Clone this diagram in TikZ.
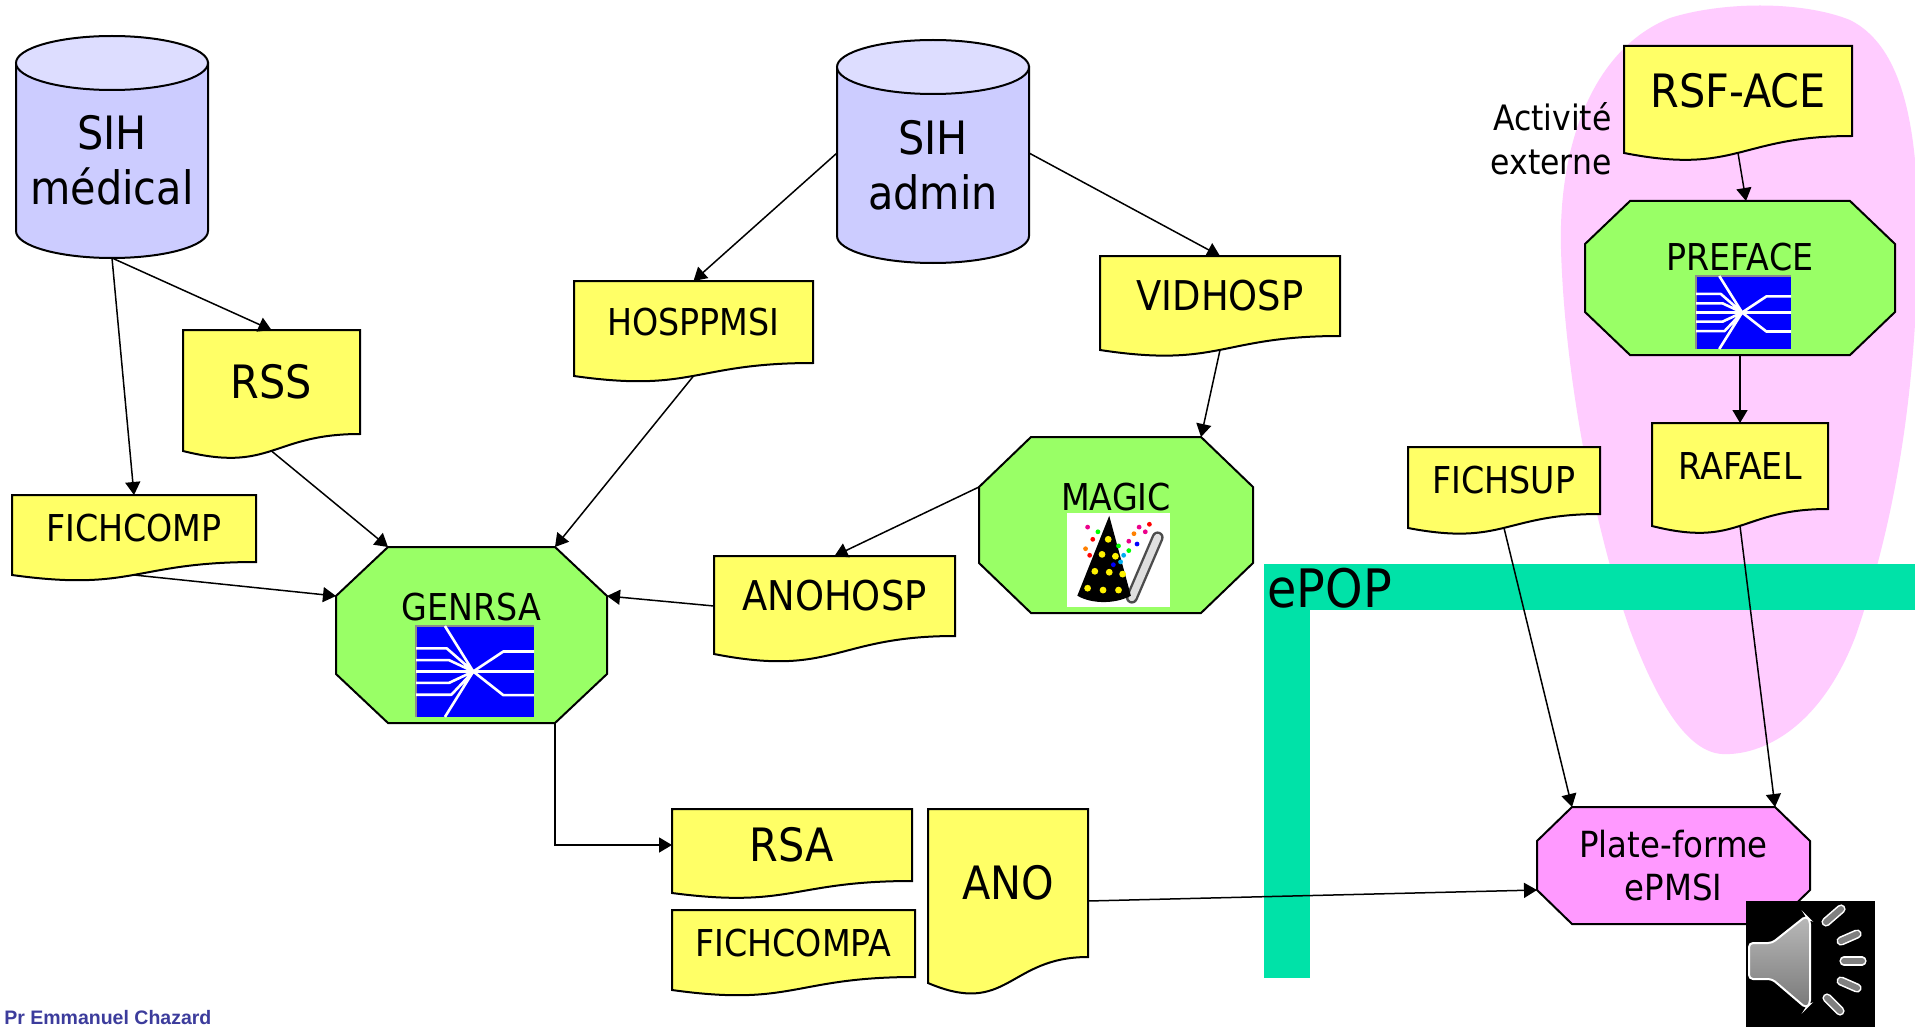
\documentclass[tikz,border=0pt]{standalone}
\usepackage{fontspec}
\setmainfont{DejaVu Sans}[FakeStretch=0.9]
\newfontfamily\creditfont{Liberation Sans}
\usetikzlibrary{calc,arrows.meta}

\pgfdeclarelayer{backdrop}
\pgfdeclarelayer{shapes}
\pgfsetlayers{backdrop,shapes,main}

\definecolor{docyellow}{HTML}{FFFF66}
\definecolor{procgreen}{HTML}{99FF66}
\definecolor{dbbody}{HTML}{CCCCFF}
\definecolor{dbtop}{HTML}{DDDDFF}
\definecolor{platpink}{HTML}{FF99FF}
\definecolor{zonepink}{HTML}{FFCCFF}
\definecolor{epopgreen}{HTML}{00E2A8}
\definecolor{iconblue}{HTML}{0000FF}
\definecolor{creditblue}{HTML}{3C3C9C}

\tikzset{
  box/.style={inner sep=0pt, outer sep=0pt, align=center, text=black},
  docbox/.style={box, anchor=north west},
  outline/.style={draw=black, line width=1pt, line join=miter},
  flow/.style={-{Triangle[length=6.5pt,width=7.5pt]}, line width=0.75pt},
  bigtext/.style={font=\fontsize{23}{27.5}\selectfont},
  midtext/.style={font=\fontsize{18.5}{22}\selectfont},
  largetext/.style={font=\fontsize{20.5}{24}\selectfont},
}

% document symbol (wavy bottom) around a node; #2 = drop of the wave's left end
\newcommand\docshape[2]{%
  \begin{pgfonlayer}{shapes}
    \draw[outline, fill=docyellow] (#1.north west) -- (#1.north east) -- (#1.south east)
      .. controls (#1.south) and ($(#1.south)+(0,{2.31*#2})$) .. ($(#1.south west)+(0,#2)$) -- cycle;
  \end{pgfonlayer}}

% octagonal process symbol; #2,#3 = chamfer sizes, #4 = fill
\newcommand\octshape[4]{%
  \begin{pgfonlayer}{shapes}
    \draw[outline, fill=#4] ($(#1.north west)+(#2,0)$) -- ($(#1.north east)+(-#2,0)$)
      -- ($(#1.north east)+(0,#3)$) -- ($(#1.south east)+(0,-#3)$)
      -- ($(#1.south east)+(-#2,0)$) -- ($(#1.south west)+(#2,0)$)
      -- ($(#1.south west)+(0,-#3)$) -- ($(#1.north west)+(0,#3)$) -- cycle;
  \end{pgfonlayer}}

% database cylinder; #2,#3 = radii of the ellipses, #4 = y radius in picture units
\newcommand\cylshape[4]{%
  \begin{pgfonlayer}{shapes}
    \draw[outline, fill=dbbody] (#1.north west) -- ($(#1.south west)+(0,-#4)$)
      arc[start angle=180, end angle=360, x radius=#2, y radius=#3] -- (#1.north east) -- cycle;
    \draw[outline, fill=dbtop] (#1.north) ellipse[x radius=#2, y radius=#3];
  \end{pgfonlayer}}

% GENRSA / PREFACE program icon
\newcommand\swicon[3]{%
  \begin{scope}[shift={#1}, x=#2, y=-#3]
    \fill[iconblue] (0,0) rectangle (1,1);
    \draw[black!45, line width=0.6pt] (0,1) -- (0,0) -- (1,0);
    \draw[white, line width=1.3pt, line join=round]
      (0.245,0) -- (0.485,0.5) -- (0.245,1)
      (0,0.245) -- (0.26,0.245) -- (0.485,0.5)
      (0,0.375) -- (0.28,0.375) -- (0.485,0.5)
      (0,0.5) -- (1,0.5)
      (0,0.625) -- (0.28,0.625) -- (0.485,0.5)
      (0,0.755) -- (0.3,0.755) -- (0.485,0.5)
      (0.485,0.5) -- (0.74,0.28) -- (1,0.28)
      (0.485,0.5) -- (0.74,0.76) -- (1,0.76);
  \end{scope}}

\begin{document}
\begin{tikzpicture}[x=0.5pt, y=-0.5pt]
\useasboundingbox (0,0) rectangle (1915,1027);

% ---------- backdrop: page, external-activity zone, ePOP band ----------
\begin{pgfonlayer}{backdrop}
  \fill[white] (0,0) rectangle (1915,1027);
  \fill[zonepink] (1722,754)
    .. controls (1690,752) and (1660,710) .. (1630,630)
    .. controls (1595,530) and (1565,380) .. (1561,250)
    .. controls (1558,150) and (1590,50) .. (1670,18)
    .. controls (1720,2) and (1800,0) .. (1850,20)
    .. controls (1900,45) and (1920,120) .. (1918,250)
    .. controls (1915,400) and (1895,520) .. (1856,635)
    .. controls (1820,730) and (1760,756) .. (1722,754) -- cycle;
  \fill[epopgreen] (1264,564) rectangle (1915,610);
  \fill[epopgreen] (1264,564) rectangle (1310,978);
\end{pgfonlayer}
\node[anchor=base west, inner sep=0pt, font=\fontsize{26.5}{30}\selectfont] (epop) at (1267,607) {ePOP};

% ---------- databases ----------
\node[box, bigtext, minimum width=96pt, minimum height=97.5pt] (sihmed) at (112,160.5) {SIH\\médical};
\cylshape{sihmed}{48pt}{13.5pt}{27}
\node[box, bigtext, minimum width=96pt, minimum height=98pt] (sihadm) at (933,165) {SIH\\admin};
\cylshape{sihadm}{48pt}{13.5pt}{27}

% ---------- documents ----------
\node[docbox, bigtext, minimum width=88.5pt, minimum height=52pt] (rss) at (183,330) {RSS};
\docshape{rss}{17}
\node[docbox, midtext, minimum width=119.5pt, minimum height=41pt] (hosppmsi) at (574,281) {HOSPPMSI};
\docshape{hosppmsi}{13}
\node[docbox, largetext, minimum width=120pt, minimum height=40pt] (vidhosp) at (1100,256) {VIDHOSP};
\docshape{vidhosp}{14}
\node[docbox, midtext, minimum width=122pt, minimum height=33.5pt] (fichcomp) at (12,495) {FICHCOMP};
\docshape{fichcomp}{13}
\node[docbox, largetext, minimum width=120.5pt, minimum height=40pt] (anohosp) at (714,556) {ANOHOSP};
\docshape{anohosp}{18}
\node[docbox, bigtext, minimum width=120pt, minimum height=36pt] (rsa) at (672,809) {RSA};
\docshape{rsa}{12}
\node[docbox, midtext, minimum width=121.5pt, minimum height=33.5pt] (fichcompa) at (672,910) {FICHCOMPA};
\docshape{fichcompa}{13}
\node[docbox, bigtext, minimum width=80pt, minimum height=74pt] (ano) at (928,809) {ANO};
\docshape{ano}{26}
\node[docbox, midtext, minimum width=96pt, minimum height=33.5pt] (fichsup) at (1408,447) {FICHSUP};
\docshape{fichsup}{14}
\node[docbox, midtext, minimum width=88pt, minimum height=43pt] (rafael) at (1652,423) {RAFAEL};
\docshape{rafael}{17}
\node[docbox, bigtext, minimum width=114pt, minimum height=45pt] (rsface) at (1624,46) {RSF-ACE};
\docshape{rsface}{17}

\node[anchor=east, align=right, inner sep=0pt, font=\fontsize{17.5}{22}\selectfont] (externe) at (1612,139) {Activité\\externe};

% ---------- processes ----------
\node[box, minimum width=135.5pt, minimum height=88pt] (genrsa) at (471.5,635) {};
\octshape{genrsa}{52}{49}{procgreen}
\node[box, midtext] (genrsa-name) at ($(genrsa.center)+(0,-28)$) {GENRSA};
\swicon{($(genrsa.center)+(-55.5,-9)$)}{59pt}{45.5pt}

\node[box, minimum width=137pt, minimum height=88pt] (magic) at (1116,525) {};
\octshape{magic}{52}{50}{procgreen}
\node[box, midtext] (magic-name) at ($(magic.center)+(0,-28)$) {MAGIC};
\begin{scope}[shift={($(magic.center)+(-49,-12)$)}, x=51.5pt, y=-47pt]
  \fill[white] (0,0) rectangle (1,1);
  % wand
  \draw[line width=6pt, black!70, line cap=round] (0.63,0.9) -- (0.88,0.26);
  \draw[line width=3.6pt, white!75!gray, line cap=round] (0.63,0.9) -- (0.88,0.26);
  % hat
  \fill[black] (0.41,0.03) -- (0.62,0.88) .. controls (0.47,0.97) and (0.24,0.97) .. (0.1,0.88) -- cycle;
  \foreach \p in {(0.4,0.28),(0.34,0.44),(0.47,0.46),(0.27,0.62),(0.41,0.63),(0.54,0.65),(0.2,0.8),(0.35,0.82),(0.5,0.82)}
    \fill[yellow] \p circle[radius=1.7pt];
  % sparkles
  \foreach \p/\c in {(0.2,0.15)/magenta,(0.25,0.28)/red,(0.18,0.38)/orange,(0.3,0.2)/green,
                     (0.22,0.45)/red,(0.5,0.35)/green,(0.55,0.45)/cyan,(0.6,0.3)/magenta,
                     (0.65,0.22)/orange,(0.7,0.15)/magenta,(0.76,0.2)/magenta,(0.6,0.4)/green,
                     (0.68,0.33)/blue,(0.8,0.12)/red,(0.45,0.55)/blue,(0.52,0.52)/cyan}
    \fill[\c] \p circle[radius=1.2pt];
\end{scope}

\node[box, minimum width=155pt, minimum height=77pt] (preface) at (1740,278) {};
\octshape{preface}{45}{43}{procgreen}
\node[box, midtext] (preface-name) at ($(preface.center)+(0,-21)$) {PREFACE};
\swicon{($(preface.center)+(-44,-2)$)}{47.5pt}{36.5pt}

\node[box, font=\fontsize{18}{21.5}\selectfont, minimum width=136.5pt, minimum height=58.5pt] (platef) at (1673.5,865.5) {Plate-forme\\ePMSI};
\octshape{platef}{35}{34}{platpink}

% ---------- flows ----------
\draw[flow] (sihmed.south) -- (fichcomp.north);
\draw[flow] (sihmed.south) -- (rss.north);
\draw[flow] ($(rss.south)+(0,17)$) -- ($(genrsa.north west)+(52,0)$);
\draw[flow] ($(fichcomp.south)+(0,13)$) -- ($(genrsa.north west)+(0,49)$);
\draw[flow] ($(sihadm.west)+(0,-12)$) -- (hosppmsi.north);
\draw[flow] ($(hosppmsi.south)+(0,13)$) -- ($(genrsa.north east)+(-52,0)$);
\draw[flow] ($(sihadm.east)+(0,-12)$) -- (vidhosp.north);
\draw[flow] ($(vidhosp.south)+(0,14)$) -- ($(magic.north east)+(-52,0)$);
\draw[flow] ($(magic.north west)+(0,50)$) -- (anohosp.north);
\draw[flow] ($(anohosp.west)+(0,10)$) -- ($(genrsa.north east)+(0,49)$);
\draw[flow] ($(genrsa.south east)+(-52,0)$) |- (rsa.west);
\draw[flow] ($(ano.east)+(0,18)$) -- ($(platef.south west)+(0,-34)$);
\draw[flow] ($(fichsup.south)+(0,14)$) -- ($(platef.north west)+(35,0)$);
\draw[flow] ($(rafael.south)+(0,17)$) -- ($(platef.north east)+(-35,0)$);
\draw[flow] ($(rsface.south)+(0,17)$) -- ($(preface.north)+(6,0)$);
\draw[flow] (preface.south) -- (rafael.north);

% ---------- audio button ----------
\fill[black] (1746,901) rectangle (1875,1030);
\path[draw=white, line width=1pt, rounded corners=2pt, top color=gray!55, bottom color=gray!95!black]
  (1749,943) -- (1772,943) -- (1806,916) -- (1810,920) -- (1810,1004) -- (1806,1008) -- (1772,979) -- (1749,979) -- cycle;
\foreach \a/\b in {{(1826,922)}/{(1841,909)}, {(1841,941)}/{(1857,934)}, {(1844,961)}/{(1862,961)},
                   {(1841,981)}/{(1857,988)}, {(1827,998)}/{(1840,1011)}} {
  \draw[white, line width=4.6pt, line cap=round] \a -- \b;
  \draw[gray, line width=3pt, line cap=round] \a -- \b;
}

% ---------- credit ----------
\node[anchor=base west, inner sep=0pt, text=creditblue, font=\creditfont\bfseries\fontsize{9.75}{12}\selectfont] (author) at (4,1024) {Pr Emmanuel Chazard};
\end{tikzpicture}
\end{document}
